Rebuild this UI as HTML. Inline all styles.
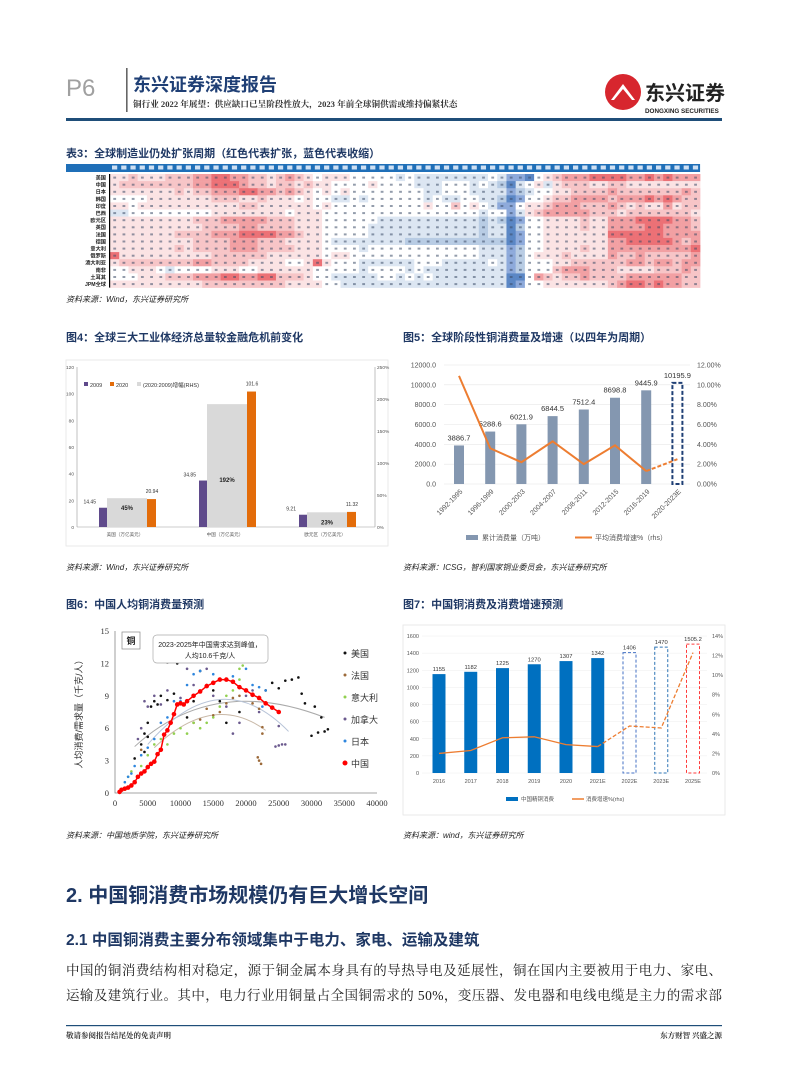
<!DOCTYPE html>
<html><head><meta charset="utf-8">
<style>
html,body{margin:0;padding:0;background:#fff;}
svg{display:block;font-family:"Liberation Sans","Noto Sans CJK SC",sans-serif;}
</style></head>
<body>
<svg id="pg" width="793" height="1076" viewBox="0 0 793 1076" xmlns="http://www.w3.org/2000/svg">
<text x="66" y="96" font-size="24" fill="#a0a0a0">P6</text>
<rect x="126" y="68" width="1.6" height="44" fill="#666"/>
<text x="133" y="91" font-size="18" font-weight="bold" fill="#1f3f75">东兴证券深度报告</text>
<text x="133" y="107" font-size="8.6" font-weight="bold" fill="#333" font-family="Liberation Serif, Noto Serif CJK SC, serif">铜行业 2022 年展望：供应缺口已呈阶段性放大，2023 年前全球铜供需或维持偏紧状态</text>
<g>
<circle cx="623" cy="92" r="18" fill="#d7262e"/>
<path d="M611 100 L623 84 L635 100 Z" fill="#fff"/>
<path d="M614 100 L623 89 L632 100 Z" fill="#d7262e"/>
<text x="645" y="100" font-size="20" font-weight="bold" fill="#222">东兴证券</text>
<text x="645" y="113" font-size="6.3" font-weight="bold" fill="#222">DONGXING SECURITIES</text>
</g>
<rect x="66" y="118" width="656" height="3" fill="#1f4e79"/>

<text x="66" y="157" font-size="11" font-weight="bold" fill="#1f3864">表3：全球制造业仍处扩张周期（红色代表扩张，蓝色代表收缩）</text>
<g id="heat"></g>
<text x="66" y="302" font-size="8" font-style="italic" fill="#222">资料来源：Wind，东兴证券研究所</text>

<text x="66" y="341" font-size="11" font-weight="bold" fill="#1f3864">图4：全球三大工业体经济总量较金融危机前变化</text>
<text x="403" y="341" font-size="11" font-weight="bold" fill="#1f3864">图5：全球阶段性铜消费量及增速（以四年为周期）</text>
<g id="fig4"></g>
<g id="fig5"></g>
<text x="66" y="570" font-size="8" font-style="italic" fill="#222">资料来源：Wind，东兴证券研究所</text>
<text x="403" y="570" font-size="8" font-style="italic" fill="#222">资料来源：ICSG，智利国家铜业委员会，东兴证券研究所</text>

<text x="66" y="608" font-size="11" font-weight="bold" fill="#1f3864">图6：中国人均铜消费量预测</text>
<text x="403" y="608" font-size="11" font-weight="bold" fill="#1f3864">图7：中国铜消费及消费增速预测</text>
<g id="fig6"></g>
<g id="fig7"></g>
<text x="66" y="838" font-size="8" font-style="italic" fill="#222">资料来源：中国地质学院，东兴证券研究所</text>
<text x="403" y="838" font-size="8" font-style="italic" fill="#222">资料来源：wind，东兴证券研究所</text>

<text x="66" y="902" font-size="20" font-weight="bold" fill="#1f3864">2. 中国铜消费市场规模仍有巨大增长空间</text>
<text x="66" y="945" font-size="15.5" font-weight="bold" fill="#1f3864">2.1 中国铜消费主要分布领域集中于电力、家电、运输及建筑</text>
<text x="66" y="975" font-size="13.5" fill="#222" font-family="Liberation Serif, Noto Serif CJK SC, serif" textLength="656" lengthAdjust="spacing">中国的铜消费结构相对稳定，源于铜金属本身具有的导热导电及延展性，铜在国内主要被用于电力、家电、</text>
<text x="66" y="1000" font-size="13.5" fill="#222" font-family="Liberation Serif, Noto Serif CJK SC, serif" textLength="656" lengthAdjust="spacing">运输及建筑行业。其中，电力行业用铜量占全国铜需求的 50%，变压器、发电器和电线电缆是主力的需求部</text>
<rect x="66" y="1025" width="656" height="1.2" fill="#1f4e79"/>
<text x="66" y="1038" font-size="7.5" font-weight="bold" fill="#333" font-family="Liberation Serif, Noto Serif CJK SC, serif">敬请参阅报告结尾处的免责声明</text>
<text x="722" y="1038" font-size="7.5" font-weight="bold" fill="#333" font-family="Liberation Serif, Noto Serif CJK SC, serif" text-anchor="end">东方财智 兴盛之源</text>
</svg>
<script>
const NS='http://www.w3.org/2000/svg';
function mk(tag,attrs,parent,txt){const e=document.createElementNS(NS,tag);for(const k in attrs)e.setAttribute(k,attrs[k]);if(txt!==undefined)e.textContent=txt;parent.appendChild(e);return e;}

const heatRows=['美国','中国','日本','韩国','印度','巴西','欧元区','英国','法国','德国','意大利','俄罗斯','澳大利亚','南非','土耳其','JPM全球'];
const heatLevels=[
'6676667778899887767876566655555454444444454221567888999988989888',
'6777777778899987767767665555655554445554543145646777667766666666',
'6666666767788899887876565655555555445554444234556677778777777787',
'5555666666677766766656554454555555454455443125567788887888989877',
'6656666666666677666666565555555555655756542256678887778767668677',
'4455555555566666666566655555555555555555455246788888777677777776',
'6666666667778888877766655555544444444444343125566667668889999887',
'6666666666777788777766655555444444444444344135566667668888998887',
'6666666777788899998876655555444444444444344125566666669999998888',
'6666666667777888777666654444444433333333333125566666668899999878',
'6666666767777888777766655554555555555555444235566667668888888889',
'9666666666677777766666656655555555555555444235666766668778777778',
'6777777778877776666556965554444445554444454235556677777788788788',
'5566654555566655666666555554555545444444444235557888777666677787',
'5556667778889988997776554444455454544444444115876778777788888877',
'6666666666777777777666655444444444444444444125566666667899898877'];
const heatColors=['#3f6fb5','#5b87c5','#8eaadb','#b8cce4','#dce6f2','#ffffff','#fbe3e4','#f7c5c7','#f2a0a3','#ec7176'];
(function(){
const g=document.getElementById('heat');
const x0=110,y0=174,cw=9.22,rh=7.1,nc=64;
const hdr=mk('rect',{x:66,y:164,width:x0-66+cw*nc,height:8,fill:'#1f6fb8'},g);


for(let c=0;c<nc;c++){
  const t=mk('rect',{x:x0+c*cw+2,y:165.5,width:cw-4,height:4,fill:'#cfe0f3'},g);
  
  
}
heatRows.forEach((name,r)=>{
  const y=y0+r*rh;
  const lb=mk('text',{x:106,y:y+5.5,'font-size':5.2,'text-anchor':'end',fill:'#222','font-weight':'bold'},g,name);
  
  
  const s=heatLevels[r];
  for(let c=0;c<nc;c++){
    const v=+s[c];
    const cell=mk('rect',{x:x0+c*cw,y:y,width:cw+0.3,height:rh+0.3,fill:heatColors[v]},g);
    
    
    const m=mk('rect',{x:x0+c*cw+3.3,y:y+2.6,width:2.8,height:2,fill:'#3a4a66','fill-opacity':0.55},g);
    
    
  }
});
const vl=mk('rect',{x:x0-1,y:y0,width:1.2,height:rh*16,fill:'#000'},g);


})();

const f4Cats=['美国（万亿美元）','中国（万亿美元）','欧元区（万亿美元）'];
const f4V2009=[14.45,34.85,9.21];
const f4V2020=[20.94,101.6,11.32];
const f4Growth=[45,192,23];
const f4LeftTicks=[0,20,40,60,80,100,120];
const f4RightTicks=[0,50,100,150,200,250];
(function(){
const g=document.getElementById('fig4');
const fr=mk('rect',{x:66,y:360,width:322,height:186,fill:'none',stroke:'#e4e4e4','stroke-width':0.8},g);

const yL=v=>527-v*160/120, yR=v=>527-v*160/250;
const centers=[125,225,325];
f4LeftTicks.forEach(t=>{const e=mk('text',{x:74,y:yL(t)+2,'font-size':4.8,'text-anchor':'end',fill:'#555'},g,t);
});
f4RightTicks.forEach(t=>{const e=mk('text',{x:377,y:yR(t)+2,'font-size':4.8,fill:'#555'},g,t+'%');
});
const ax=mk('line',{x1:77,y1:527,x2:375,y2:527,stroke:'#999','stroke-width':0.6},g);

const la=mk('line',{x1:77,y1:367,x2:77,y2:527,stroke:'#999','stroke-width':0.6},g);

const ra=mk('line',{x1:375,y1:367,x2:375,y2:527,stroke:'#999','stroke-width':0.6},g);

f4Cats.forEach((c,i)=>{
  const cx=centers[i];
  const gb=mk('rect',{x:cx-18,y:yR(f4Growth[i]),width:40,height:527-yR(f4Growth[i]),fill:'#d9d9d9'},g);
  
  const p=mk('rect',{x:cx-26,y:yL(f4V2009[i]),width:8,height:527-yL(f4V2009[i]),fill:'#5f4a8b'},g);
  
  const o=mk('rect',{x:cx+22,y:yL(f4V2020[i]),width:9,height:527-yL(f4V2020[i]),fill:'#e36c0a'},g);
  
  const l1=mk('text',{x:cx-29,y:yL(f4V2009[i])-4,'font-size':5,'text-anchor':'end',fill:'#333'},g,f4V2009[i]);
  
  const l2=mk('text',{x:cx+27,y:yL(f4V2020[i])-6,'font-size':5,'text-anchor':'middle',fill:'#333'},g,f4V2020[i]);
  
  const l3=mk('text',{x:cx+2,y:i==1?482:yR(f4Growth[i])+12,'font-size':6,'font-weight':'bold','text-anchor':'middle',fill:'#222'},g,f4Growth[i]+'%');
  
  const cl=mk('text',{x:cx,y:536,'font-size':4.6,'text-anchor':'middle',fill:'#555'},g,c);
  
});
const lg=[['#5f4a8b','2009',84],['#e36c0a','2020',110],['#d9d9d9','(2020:2009)增幅(RHS)',137]];
lg.forEach(l=>{const s=mk('rect',{x:l[2],y:382,width:4,height:4,fill:l[0]},g);

const t=mk('text',{x:l[2]+6,y:387,'font-size':5.5,fill:'#333'},g,l[1]);
});
})();

const f5Cats=['1992-1995','1996-1999','2000-2003','2004-2007','2008-2011','2012-2015','2016-2019','2020-2023E'];
const f5Vol=[3886.7,5288.6,6021.9,6844.5,7512.4,8698.8,9445.9,10195.9];
const f5Growth=[10.9,3.6,2.2,4.3,2.0,3.9,1.3,2.5];
const f5LeftTicks=[0,2000,4000,6000,8000,10000,12000];
const f5RightTicks=[0,2,4,6,8,10,12];
(function(){
const g=document.getElementById('fig5');
const yL=v=>484-v*119/12000, yR=v=>484-v*119/12, cx=i=>459+i*31.2;
f5LeftTicks.forEach(t=>{
  const gl=mk('line',{x1:444,y1:yL(t),x2:690,y2:yL(t),stroke:'#e6e6e6','stroke-width':0.6},g);
  
  const e=mk('text',{x:436,y:yL(t)+2.5,'font-size':7,'text-anchor':'end',fill:'#555'},g,t.toFixed(1));
  });
f5RightTicks.forEach(t=>{const e=mk('text',{x:697,y:yR(t)+2.5,'font-size':7,fill:'#555'},g,t.toFixed(2)+'%');
  });
f5Cats.forEach((c,i)=>{
  const last=i==f5Cats.length-1;
  const b=mk('rect',{x:cx(i)-5,y:yL(f5Vol[i]),width:10,height:484-yL(f5Vol[i]),fill:last?'none':'#8497b0',stroke:last?'#1f3f75':'none','stroke-width':last?2:0,'stroke-dasharray':last?'4,2':''},g);
  
  const l=mk('text',{x:cx(i),y:yL(f5Vol[i])-5,'font-size':7.5,'text-anchor':'middle',fill:'#333'},g,f5Vol[i].toFixed(1));
  
  const xl=mk('text',{x:cx(i)+4,y:492,'font-size':7,'text-anchor':'end',fill:'#555',transform:`rotate(-45 ${cx(i)+4} 492)`},g,c);
  
});
const n=f5Growth.length;
const pts=f5Growth.slice(0,n-1).map((v,i)=>cx(i)+','+yR(v)).join(' ');
const ln=mk('polyline',{points:pts,fill:'none',stroke:'#ed7d31','stroke-width':2},g);

const dl=mk('line',{x1:cx(n-2),y1:yR(f5Growth[n-2]),x2:cx(n-1),y2:yR(f5Growth[n-1]),stroke:'#ed7d31','stroke-width':2,'stroke-dasharray':'4,2'},g);

const s1=mk('rect',{x:466,y:535,width:12,height:5,fill:'#8497b0'},g);

const t1=mk('text',{x:482,y:540,'font-size':7,fill:'#555'},g,'累计消费量（万吨）');

const s2=mk('line',{x1:575,y1:537.5,x2:592,y2:537.5,stroke:'#ed7d31','stroke-width':2},g);

const t2=mk('text',{x:595,y:540,'font-size':7,fill:'#555'},g,'平均消费增速%（rhs）');

})();

const f6Series=['美国','法国','意大利','加拿大','日本','中国'];
const f6Colors=['#111','#9c6a3a','#92d050','#6b5a8e','#2e86de','#ff0000'];
const f6UsX=[3000,4000,4500,4500,5000,5000,5500,6000,6500,7000,8000,8000,9000,9500,10000,11000,12000,13000,14000,15000,16000,17000,19000,21000,23000,24000,25000,26000,27000,28000,28500,29000,30000,30500,31000,31500,32000,32500];
const f6UsY=[3.2,4.5,3.8,5.5,6.5,5.2,8.0,8.5,8.2,9.0,12.1,8.6,9.2,12.0,8.3,7.0,8.5,11.3,10.0,9.5,8.5,6.5,7.5,9.0,9.5,10.2,9.7,10.4,10.5,10.7,9.2,8.3,5.3,8.0,5.6,7.0,5.7,5.9];
const f6FrX=[4000,12000,13000,14000,15000,16000,17000,18000,19000,20000,21000,22000,22500,22500,22000,21800,22300];
const f6FrY=[4.0,6.5,6.8,7.8,7.2,7.5,8.3,8.8,9.0,9.5,8.3,7.8,6.1,5.5,3.0,3.3,2.7];
const f6ItX=[1500,2000,2500,4000,5000,6000,7000,8000,9000,10000,11000,12000,13000,14000,15000,16000,17000,18000,19000,19500,20000,19000];
const f6ItY=[0.3,1.5,2.0,2.5,3.5,4.5,5.0,4.5,5.5,6.0,5.5,6.5,6.0,6.5,7.0,8.0,9.0,9.5,11.5,11.8,13.0,10.5];
const f6CaX=[3500,4000,4500,5000,6000,7000,8000,10000,11000,12000,14000,15000,17000,18000,19000,20000,21000,22000,24500,25000,25500,26000,25000];
const f6CaY=[5.0,6.0,8.5,8.0,9.0,8.2,9.5,8.8,11.5,10.0,11.5,9.0,8.0,5.5,6.5,9.0,9.5,7.5,4.3,4.4,4.5,4.5,6.2];
const f6JpX=[1500,2000,2500,3000,4000,5000,6000,7000,8000,9000,10000,11000,12000,13000,15000,17000,18000,19000,19500,20000,21000,22000,23000,22500];
const f6JpY=[1.0,1.5,1.8,2.5,3.5,4.2,5.0,6.5,7.0,8.5,8.5,10.0,11.0,11.3,11.0,10.5,10.8,12.8,13.1,11.5,10.0,9.8,9.5,8.0];
const f6CnX=[700,1000,1500,2000,2500,3000,3500,4000,4500,5000,5500,6000,6500,7000,7500,8000,8500,9000,9500,10000,10500,11000,12000,13000,14000,15000,16000,17000,18000,19000,20000,21000,22000,23000,24000,25000];
const f6CnY=[0.1,0.3,0.4,0.5,0.7,1.0,1.5,1.8,2.0,2.4,2.7,2.9,3.6,4.0,5.4,5.8,6.5,7.3,8.2,8.3,8.2,8.5,9.0,9.4,9.9,10.2,10.5,10.5,10.3,9.8,9.5,9.1,8.8,8.3,7.9,7.5];
const f6XTicks=[0,5000,10000,15000,20000,25000,30000,35000,40000];
const f6YTicks=[0,3,6,9,12,15];
(function(){
const g=document.getElementById('fig6');
const X=v=>115+v*262/40000, Y=v=>793-v*162/15;
const ax=mk('polyline',{points:`115,631 115,793 377,793`,fill:'none',stroke:'#888','stroke-width':0.8},g);

f6XTicks.forEach(t=>{const e=mk('text',{x:X(t),y:806,'font-size':8.5,'text-anchor':'middle',fill:'#333','font-family':'Liberation Serif, serif'},g,t);
});
f6YTicks.forEach(t=>{const e=mk('text',{x:109,y:Y(t)+3,'font-size':8.5,'text-anchor':'end',fill:'#333','font-family':'Liberation Serif, serif'},g,t);
});
const yt=mk('text',{x:82,y:712,'font-size':9,'text-anchor':'middle',fill:'#333',transform:'rotate(-90 82 712)'},g,'人均消费/需求量（千克/人）');

const trends=[[[3000,15000,32000],[4.3,9.5,7.0],'#aaa'],[[5000,16000,26500],[4.5,10.7,5.7],'#b8c4d8'],[[6000,15000,23000],[4.2,7.9,5.8],'#c9b9a8']];
trends.forEach(tr=>{const p=mk('path',{d:`M${X(tr[0][0])},${Y(tr[1][0])} Q${X(tr[0][1])},${Y(tr[1][1]+1.5)} ${X(tr[0][2])},${Y(tr[1][2])}`,fill:'none',stroke:tr[2],'stroke-width':1},g);
});
const sets=[[f6UsX,f6UsY],[f6FrX,f6FrY],[f6ItX,f6ItY],[f6CaX,f6CaY],[f6JpX,f6JpY]];
sets.forEach((s,k)=>{s[0].forEach((x,i)=>{
  const c=mk('circle',{cx:X(x),cy:Y(s[1][i]),r:1.3,fill:f6Colors[k]},g);
  });});
const cl=mk('polyline',{points:f6CnX.map((x,i)=>X(x)+','+Y(f6CnY[i])).join(' '),fill:'none',stroke:'#ff0000','stroke-width':1.5},g);

f6CnX.forEach((x,i)=>{const c=mk('circle',{cx:X(x),cy:Y(f6CnY[i]),r:2.3,fill:'#ff0000'},g);
});
const bx=mk('rect',{x:122,y:632,width:18,height:17,fill:'#fff',stroke:'#888','stroke-width':0.7},g);

const bt=mk('text',{x:131,y:644,'font-size':9,'text-anchor':'middle','font-weight':'bold',fill:'#222'},g,'铜');

const ab=mk('rect',{x:153,y:635,width:115,height:28,rx:4,fill:'#fff',stroke:'#aaa','stroke-width':0.7},g);

const a1=mk('text',{x:210,y:647,'font-size':7,'text-anchor':'middle',fill:'#222'},g,'2023-2025年中国需求达到峰值，');

const a2=mk('text',{x:210,y:658,'font-size':7,'text-anchor':'middle',fill:'#222'},g,'人均10.6千克/人');

f6Series.forEach((n,i)=>{
  const y=656+i*22;
  const d=mk('circle',{cx:345,cy:y-3,r:i==5?2.5:1.5,fill:f6Colors[i]},g);
  
  const t=mk('text',{x:351,y:y+1,'font-size':9,fill:'#333'},g,n);
  
});
})();

const f7Cats=['2016','2017','2018','2019','2020','2021E','2022E','2023E','2025E'];
const f7Vol=[1155,1182,1225,1270,1307,1342,1406,1470,1505.2];
const f7Growth=[2.0,2.3,3.6,3.7,2.9,2.7,4.8,4.6,12.3];
const f7LeftTicks=[0,200,400,600,800,1000,1200,1400,1600];
const f7RightTicks=[0,2,4,6,8,10,12,14];
(function(){
const g=document.getElementById('fig7');
const yL=v=>773-v*137/1600, yR=v=>773-v*137/14, cx=i=>439+i*31.75;
const fr=mk('rect',{x:403,y:625,width:322,height:190,fill:'none',stroke:'#e4e4e4','stroke-width':0.8},g);

f7LeftTicks.forEach(t=>{
  const gl=mk('line',{x1:422,y1:yL(t),x2:707,y2:yL(t),stroke:'#eee','stroke-width':0.5},g);
  
  const e=mk('text',{x:419,y:yL(t)+2,'font-size':5.5,'text-anchor':'end',fill:'#555'},g,t);
  });
f7RightTicks.forEach(t=>{const e=mk('text',{x:712,y:yR(t)+2,'font-size':5.5,fill:'#555'},g,t+'%');
  });
const dashCol=['#4472c4','#2e75b6','#ff3b3b'];
f7Cats.forEach((c,i)=>{
  const est=i>=6;
  const b=mk('rect',{x:cx(i)-6.5,y:yL(f7Vol[i]),width:13,height:773-yL(f7Vol[i]),fill:est?'none':'#0070c0',stroke:est?dashCol[i-6]:'none','stroke-width':est?1:0,'stroke-dasharray':est?'3,2':''},g);
  
  const l=mk('text',{x:cx(i),y:yL(f7Vol[i])-3,'font-size':5.8,'text-anchor':'middle',fill:'#333'},g,f7Vol[i]);
  
  const xl=mk('text',{x:cx(i),y:783,'font-size':5.5,'text-anchor':'middle',fill:'#555'},g,c);
  
});
const ln=mk('polyline',{points:f7Growth.slice(0,6).map((v,i)=>cx(i)+','+yR(v)).join(' '),fill:'none',stroke:'#ed7d31','stroke-width':1.3},g);

const dl=mk('polyline',{points:f7Growth.slice(5).map((v,i)=>cx(i+5)+','+yR(v)).join(' '),fill:'none',stroke:'#ed7d31','stroke-width':1.3,'stroke-dasharray':'4,2'},g);

const s1=mk('rect',{x:506,y:797,width:12,height:4,fill:'#0070c0'},g);

const t1=mk('text',{x:521,y:801,'font-size':5.5,fill:'#555'},g,'中国精铜消费');

const s2=mk('line',{x1:572,y1:799,x2:584,y2:799,stroke:'#ed7d31','stroke-width':1.5},g);

const t2=mk('text',{x:586,y:801,'font-size':5.5,fill:'#555'},g,'消费增速%(rhs)');

})();
</script>
</body></html>
